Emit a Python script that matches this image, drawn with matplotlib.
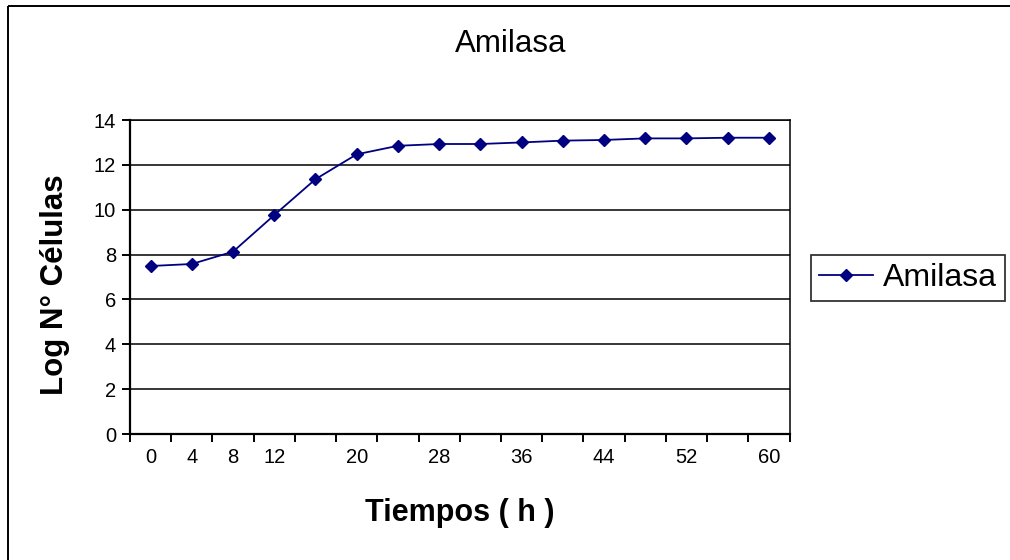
import matplotlib
matplotlib.use("Agg")
import matplotlib.pyplot as plt
from matplotlib.lines import Line2D
from matplotlib.ticker import FixedLocator, NullFormatter

plt.rcParams['font.family'] = ['Liberation Sans', 'DejaVu Sans']

# Data
tiempos = [0, 4, 8, 12, 16, 20, 24, 28, 32, 36, 40, 44, 48, 52, 56, 60]
tick_labels = ['0', '4', '8', '12', '', '20', '', '28', '', '36', '', '44', '', '52', '', '60']
amilasa = [7.49, 7.58, 8.13, 9.76, 11.36, 12.47, 12.85, 12.93, 12.93, 13.00,
           13.08, 13.11, 13.18, 13.18, 13.21, 13.21]
y_ticks = [0, 2, 4, 6, 8, 10, 12, 14]

W, H = 1010, 560
fig = plt.figure(figsize=(W / 100, H / 100), dpi=100)
fig.patch.set_facecolor('white')
fig.patch.set_edgecolor('white')
fig.patch.set_linewidth(0)

left, right, top, bottom = 130, 789.5, 120, 434
ax = fig.add_axes([left / W, 1 - bottom / H, (right - left) / W, (bottom - top) / H])

pos = list(range(len(tiempos)))
ax.plot(pos, amilasa, color='#000080', lw=1.3, marker='D', ms=6.2,
        mfc='#000080', mec='#000080', label='Amilasa', zorder=3)

ax.set_xlim(-0.5, len(tiempos) - 0.5)
ax.set_ylim(0, 14)
ax.set_yticks(y_ticks)
ax.set_yticklabels([str(v) for v in y_ticks])
ax.yaxis.grid(True, color='black', lw=1.1)
ax.set_axisbelow(True)

ax.set_xticks(pos)
ax.set_xticklabels(tick_labels)
ax.tick_params(axis='x', which='major', length=0, labelsize=14.5, pad=10)
ax.xaxis.set_minor_locator(FixedLocator([p - 0.5 for p in pos] + [len(pos) - 0.5]))
ax.xaxis.set_minor_formatter(NullFormatter())
ax.tick_params(axis='x', which='minor', length=6, width=1.4, direction='out')
ax.tick_params(axis='y', which='major', length=6, width=1.4, direction='out',
               labelsize=14.5, pad=4)

for s in ['left', 'bottom']:
    ax.spines[s].set_linewidth(1.6)
for s in ['top', 'right']:
    ax.spines[s].set_linewidth(1.1)

ax.set_xlabel('Tiempos ( h )', fontsize=22, fontweight='bold', va='center')
ax.xaxis.set_label_coords(0.5, -(513 - bottom) / (bottom - top))
ax.set_ylabel('Log N° Células', fontsize=22.5, fontweight='bold', va='center', ha='center')
ax.yaxis.set_label_coords(-(left - 55) / (right - left), (bottom - 284.5) / (bottom - top))

fig.text(511 / W, 1 - 44 / H, 'Amilasa', fontsize=22.5, ha='center', va='center')

leg = fig.legend(loc='center left', bbox_to_anchor=(811 / W, 1 - 278 / H),
                 fontsize=23, frameon=True, fancybox=False, shadow=False,
                 handlelength=1.7, handletextpad=0.3, borderpad=0.25,
                 borderaxespad=0)
leg.get_frame().set_edgecolor('black')
leg.get_frame().set_linewidth(1.3)

# outer chart frame (left and top edges visible)
fx, fy = 8 / W, 1 - 6 / H
fig.add_artist(Line2D([fx, fx], [-0.01, fy], transform=fig.transFigure, color='black',
                      lw=1.4, solid_capstyle='butt'))
fig.add_artist(Line2D([fx, 1.01], [fy, fy], transform=fig.transFigure, color='black',
                      lw=1.4, solid_capstyle='butt'))

fig.savefig('out.png', dpi=100, facecolor='white', edgecolor='white')
